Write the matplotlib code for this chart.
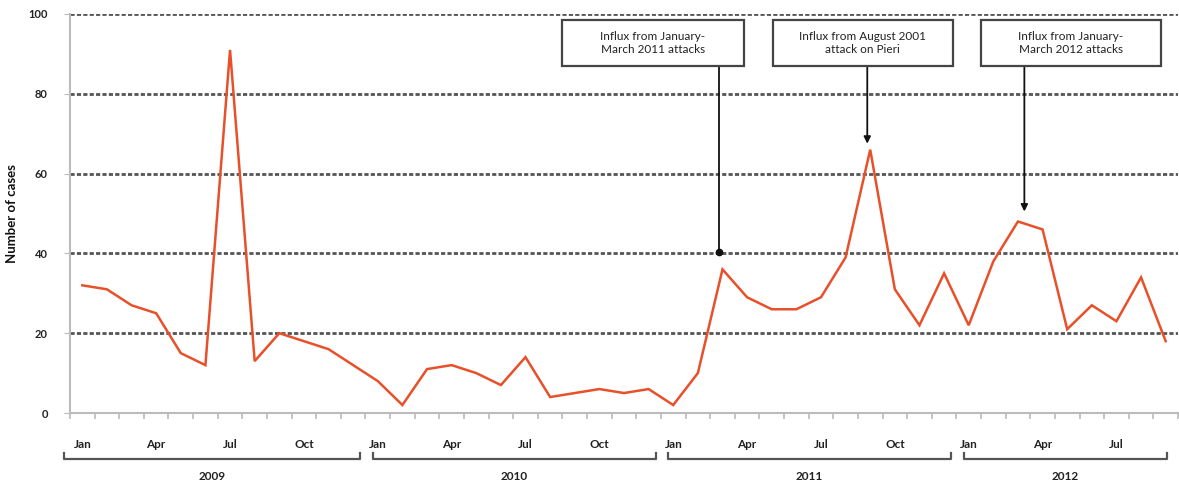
import matplotlib
matplotlib.use("Agg")
import matplotlib.pyplot as plt
from matplotlib.patches import Rectangle
import matplotlib.transforms as mtransforms
import numpy as np

# ---------------- data ----------------
years = ["2009", "2010", "2011", "2012"]
month_labels = ["Jan", "Apr", "Jul", "Oct"]
cases_2009 = [32, 31, 27, 25, 15, 12, 91, 13, 20, 18, 16, 12]
cases_2010 = [8, 2, 11, 12, 10, 7, 14, 4, 5, 6, 5, 6]
cases_2011 = [2, 10, 36, 29, 26, 26, 29, 39, 66, 31, 22, 35]
cases_2012 = [22, 38, 48, 46, 21, 27, 23, 34, 18]
annotation_texts = ["Influx from January-\nMarch 2011 attacks",
                    "Influx from August 2001\nattack on Pieri",
                    "Influx from January-\nMarch 2012 attacks"]

series = [cases_2009, cases_2010, cases_2011, cases_2012]
values = [v for s in series for v in s]
x = np.arange(len(values))

# ---------------- figure ----------------
W, H = 1179, 483
fig = plt.figure(figsize=(W / 100, H / 100), dpi=100)
plt.rcParams['font.family'] = ['Lato', 'DejaVu Sans']

ax_left, ax_right, ax_top, ax_bottom = 70, 1178, 14, 413
ax = fig.add_axes([ax_left / W, 1 - ax_bottom / H,
                   (ax_right - ax_left) / W, (ax_bottom - ax_top) / H])

ax.set_xlim(-0.5, 44.27)
ax.set_ylim(0, 100)

# grid lines
for gy in [20, 40, 60, 80, 100]:
    ax.axhline(gy, color='#555555', lw=2.0, ls=(0, (1.5, 0.8)), zorder=1)

ax.plot(x, values, color='#E8502A', lw=1.8, zorder=3, solid_joinstyle='miter')

# spines
for s in ['top', 'right']:
    ax.spines[s].set_visible(False)
ax.spines['left'].set_color('#bbbbbb')
ax.spines['bottom'].set_color('#bbbbbb')
ax.spines['left'].set_linewidth(1.5)
ax.spines['bottom'].set_linewidth(1.5)

# y ticks
ax.set_yticks([0, 20, 40, 60, 80, 100])
ax.tick_params(axis='y', length=4, color='#bbbbbb', labelsize=8,
               labelcolor='#222222', pad=12)
for lab in ax.get_yticklabels():
    lab.set_fontweight('bold')
ax.set_ylabel("Number of cases", fontsize=9.5, fontweight='bold',
              color='#111111')
ax.yaxis.set_label_coords((18 - ax_left) / (ax_right - ax_left), 0.5)

# x ticks: minor at month boundaries, labels at Jan/Apr/Jul/Oct
ax.set_xticks(np.arange(-0.5, len(values), 1.0), minor=True)
label_pos = [i for i in x if i % 3 == 0]
ax.set_xticks(label_pos)
ax.set_xticklabels([month_labels[(i % 12) // 3] for i in label_pos])
ax.tick_params(axis='x', which='major', length=0, labelsize=8.5, pad=19,
               labelcolor='#222222')
ax.tick_params(axis='x', which='minor', length=4, color='#bbbbbb', width=1.2)
for lab in ax.get_xticklabels():
    lab.set_fontweight('bold')

# year brackets
trans = mtransforms.blended_transform_factory(ax.transData, fig.transFigure)
def fy(py):
    return 1 - py / H
start = 0
bracket_y = fy(459)
tip_y = fy(453)
for yi, (yr, s) in enumerate(zip(years, series)):
    x0 = start - 0.75 if yi == 0 else start - 0.2
    x1 = start + len(s) - 0.72 if yi < len(years) - 1 else start + len(s) - 0.95
    ax.plot([x0, x0, x1, x1], [tip_y, bracket_y, bracket_y, tip_y],
            transform=trans, color='#555555', lw=1.6, clip_on=False,
            solid_joinstyle='round')
    t = fig.text(0, fy(477), yr, fontsize=8.5, fontweight='bold',
                 ha='center', va='center', color='#222222', transform=trans)
    t.set_x((x0 + x1) / 2)
    start += len(s)

# annotation boxes and arrows
boxes = [(19.47, 26.87), (28.04, 35.35), (36.48, 43.8)]
arrow_x = [25.86, 31.88, 38.26]
arrow_tip = [40.3, 67.5, 50.5]
box_lo, box_hi = 87.0, 98.5
for i, ((bx0, bx1), txt) in enumerate(zip(boxes, annotation_texts)):
    ax.add_patch(Rectangle((bx0, box_lo), bx1 - bx0, box_hi - box_lo,
                           facecolor='white', edgecolor='#444444', lw=1.6,
                           zorder=5))
    ax.text((bx0 + bx1) / 2, (box_lo + box_hi) / 2, txt, ha='center',
            va='center', fontsize=8.5, color='#222222', zorder=6,
            linespacing=1.3)
    if i == 0:
        ax.plot([arrow_x[i], arrow_x[i]], [box_lo, arrow_tip[i]],
                color='#111111', lw=1.3, zorder=4)
        ax.plot([arrow_x[i]], [arrow_tip[i]], 'o', color='#111111', ms=4.5,
                zorder=4)
    else:
        ax.annotate('', xy=(arrow_x[i], arrow_tip[i]),
                    xytext=(arrow_x[i], box_lo),
                    arrowprops=dict(arrowstyle='-|>', color='#111111', lw=1.3,
                                    mutation_scale=10, shrinkA=0, shrinkB=0),
                    zorder=4)

fig.savefig("out.png", dpi=100)
